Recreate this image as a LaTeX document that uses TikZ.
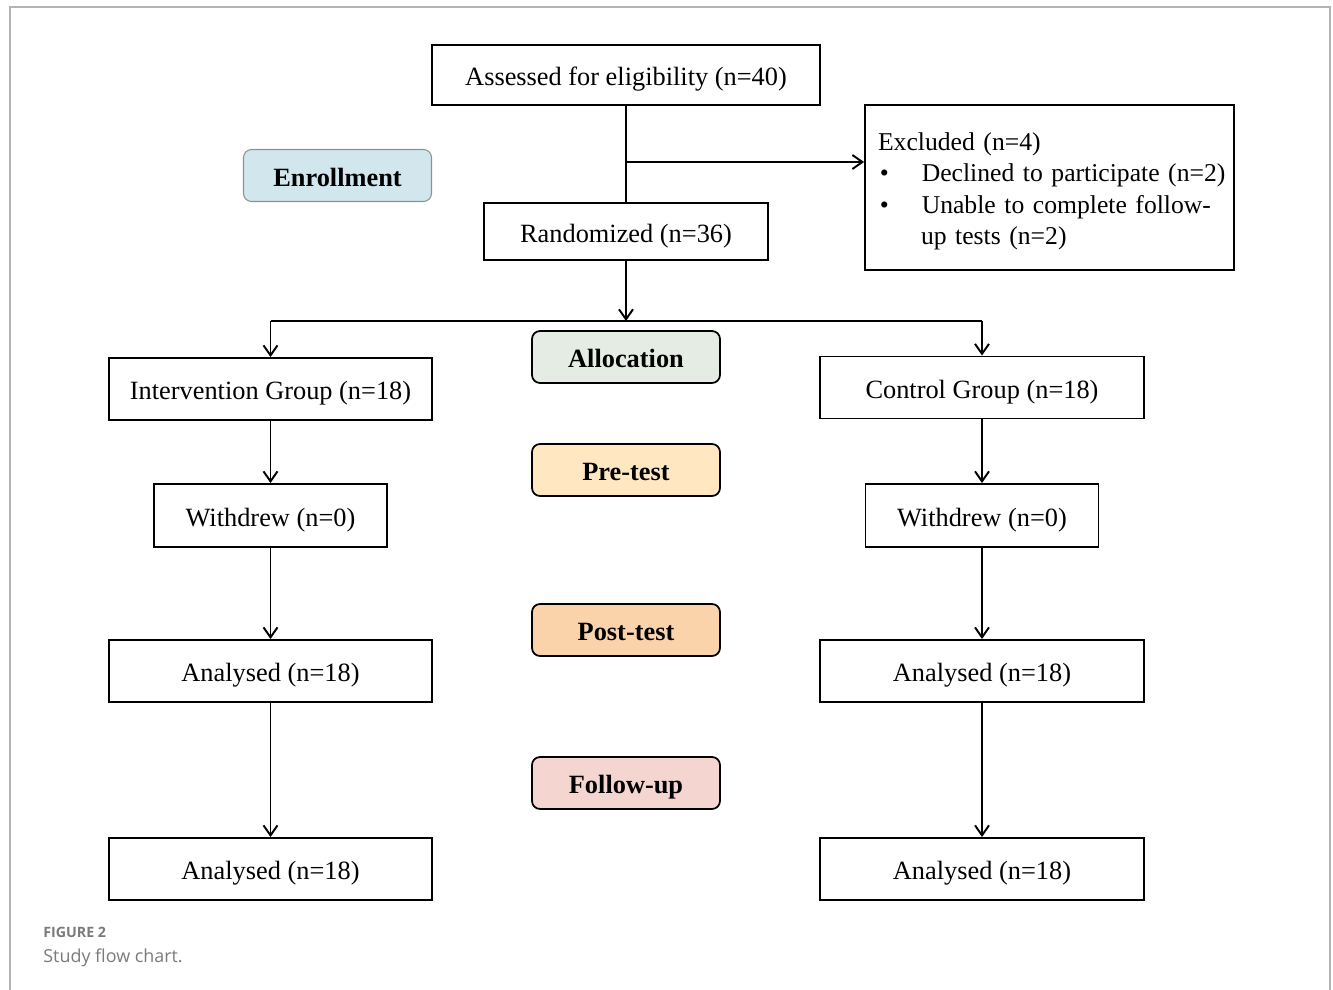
\documentclass[tikz,border=0pt]{standalone}
\usepackage{fontspec}
\setmainfont{Liberation Serif}
\newfontfamily\capfont{Open Sans}
\usetikzlibrary{arrows.meta}
\definecolor{enrollfill}{HTML}{D2E6EE}
\definecolor{allocfill}{HTML}{E4ECE3}
\definecolor{prefill}{HTML}{FFE8C1}
\definecolor{postfill}{HTML}{FAD3AB}
\definecolor{followfill}{HTML}{F5D5D0}
\definecolor{framegray}{HTML}{B4B4B4}
\definecolor{capgray}{HTML}{7A7A7A}
\begin{document}
\begin{tikzpicture}[x=0.02cm,y=-0.02cm,
  box/.style={draw,line width=1.1pt,inner sep=0pt,text height=1.2em,text depth=0pt,
    font=\fontsize{15}{18}\selectfont},
  phase/.style={draw,line width=1pt,rounded corners=0.16cm,minimum width=3.76cm,
    minimum height=1.04cm,inner sep=0pt,text height=1.2em,text depth=0pt,
    font=\fontsize{15}{18}\selectfont\bfseries},
  conn/.style={line width=1.1pt,-{Straight Barb[length=2mm,width=2.8mm]}}]
  \useasboundingbox (0,0) rectangle (1333,990);
  % Cornice
  \draw[framegray,line width=0.8pt] (10,990) -- (10,7) -- (1330,7) -- (1330,990);
  % Arruolamento
  \node[box,minimum width=7.76cm,minimum height=1.2cm] (assess) at (626,75) {Assessed for eligibility (n=40)};
  \node[box,minimum width=5.68cm,minimum height=1.14cm] (rand) at (626,231.5) {Randomized (n=36)};
  \node[draw,line width=1.1pt,inner sep=0pt,minimum width=7.38cm,minimum height=3.3cm,
    text width=6.86cm,align=left,font=\fontsize{14.6}{17.9}\selectfont] (excl) at (1049.5,187.5)
    {\mbox{\rule{0pt}{14.5pt}Excluded (n=4)}\\
     \mbox{\hspace*{1pt}\makebox[0.84cm][l]{\textbullet}Declined to participate (n=2)}\\
     \mbox{\hspace*{1pt}\makebox[0.84cm][l]{\textbullet}Unable to complete follow-}\\
     \mbox{\hspace*{0.86cm}up tests (n=2)}};
  % Fasi
  \node[phase,draw=framegray!80!black,line width=0.6pt,fill=enrollfill] (enroll) at (337.5,175.5) {Enrollment};
  \node[phase,fill=allocfill] (alloc) at (626,357) {Allocation};
  \node[phase,fill=prefill] (pre) at (626,470) {Pre-test};
  \node[phase,fill=postfill] (post) at (626,630) {Post-test};
  \node[phase,fill=followfill] (follow) at (626,783) {Follow-up};
  % Gruppi
  \node[box,minimum width=6.46cm,minimum height=1.24cm] (int) at (270.5,389) {Intervention Group (n=18)};
  \node[box,minimum width=6.48cm,minimum height=1.24cm] (ctl) at (982,387.5) {Control Group (n=18)};
  \node[box,minimum width=4.66cm,minimum height=1.26cm] (wl) at (270.5,515.5) {Withdrew (n=0)};
  \node[box,minimum width=4.66cm,minimum height=1.26cm] (wr) at (982,515.5) {Withdrew (n=0)};
  \node[box,minimum width=6.46cm,minimum height=1.24cm] (al1) at (270.5,671) {Analysed (n=18)};
  \node[box,minimum width=6.48cm,minimum height=1.24cm] (ar1) at (982,671) {Analysed (n=18)};
  \node[box,minimum width=6.46cm,minimum height=1.24cm] (al2) at (270.5,869) {Analysed (n=18)};
  \node[box,minimum width=6.48cm,minimum height=1.24cm] (ar2) at (982,869) {Analysed (n=18)};
  % Collegamenti
  \coordinate (exj) at (626,162);
  \coordinate (split) at (626,321);
  \coordinate (sl) at (270.5,321);
  \coordinate (sr) at (982,321);
  \draw[line width=1.1pt] (assess) -- (rand);
  \draw[conn] (exj) -- (exj -| excl.west);
  \draw[conn] (rand) -- (split);
  \draw[line width=1.1pt] (sl) -- (sr);
  \draw[conn] (sl) -- (int);
  \draw[conn] (sr) -- (ctl);
  \draw[conn] (int) -- (wl);
  \draw[conn] (ctl) -- (wr);
  \draw[conn] (wl) -- (al1);
  \draw[conn] (wr) -- (ar1);
  \draw[conn] (al1) -- (al2);
  \draw[conn] (ar1) -- (ar2);
  % Didascalia
  \node[anchor=base west,inner sep=0pt,text=capgray,font=\capfont\fontsize{8.1}{9}\selectfont\bfseries] (fig) at (43,937) {FIGURE 2};
  \node[anchor=base west,inner sep=0pt,text=capgray,font=\capfont\fontsize{10.2}{12}\selectfont] (cap) at (43,962) {Study flow chart.};
\end{tikzpicture}
\end{document}
